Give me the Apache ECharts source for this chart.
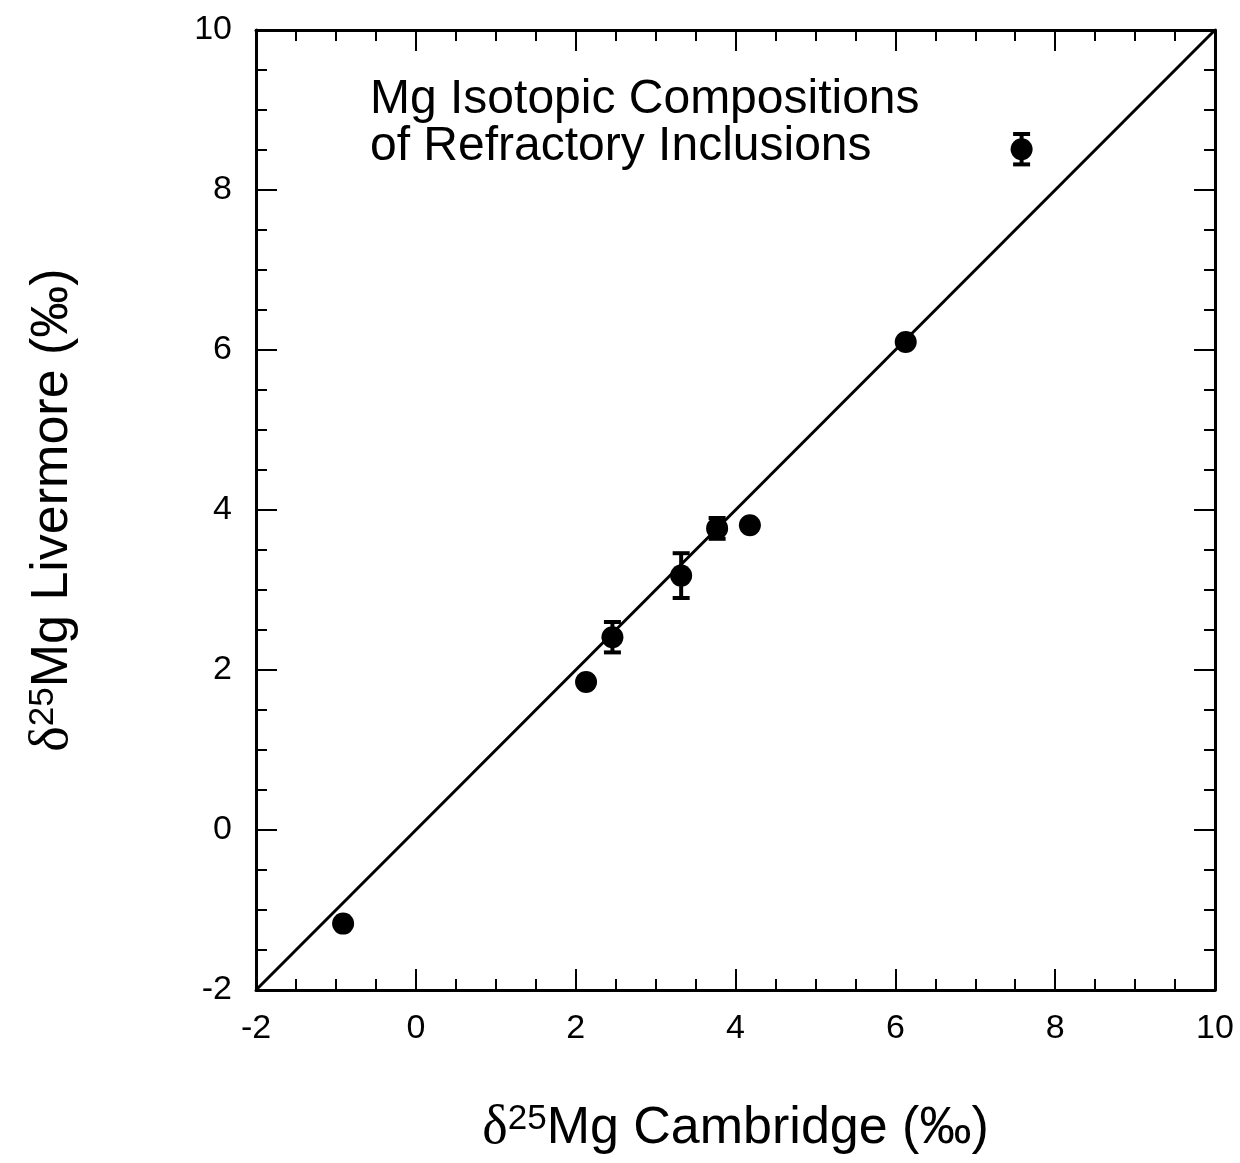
<!DOCTYPE html>
<html>
<head>
<meta charset="utf-8">
<script src="https://cdn.jsdelivr.net/npm/echarts@6/dist/echarts.min.js"></script>
<style>
  html, body { margin: 0; padding: 0; background: #fff; }
  #chart { width: 1240px; height: 1163px; }
</style>
</head>
<body>
<div id="chart"></div>
<script>
// delta-25 Mg of refractory inclusions measured in two labs
const cambridge = [-0.91, 2.13, 2.46, 3.32, 3.77, 4.18, 6.13, 7.58];
const livermore = [-1.17, 1.85, 2.41, 3.18, 3.77, 3.81, 6.10, 8.51];
const livermoreErr = [0, 0.06, 0.19, 0.28, 0.13, 0, 0, 0.19];
// 1:1 reference line
const refLine = [-2, 10];
const axisMin = -2, axisMax = 10, axisStep = 2;
const titleLines = ['Mg Isotopic Compositions', 'of Refractory Inclusions'];

const FONT = 'Helvetica, Arial, "Liberation Sans", sans-serif';
const points = cambridge.map((x, i) => [x, livermore[i], livermoreErr[i]]);

const chart = echarts.init(document.getElementById('chart'), null, { renderer: 'canvas' });

function frameAxis(extra) {
  return Object.assign({
    type: 'value',
    min: axisMin,
    max: axisMax,
    interval: axisStep,
    axisLine: { show: true, onZero: false, lineStyle: { color: '#000', width: 3 } },
    axisTick: { show: true, inside: true, length: 21, lineStyle: { color: '#000', width: 2 } },
    minorTick: { show: true, splitNumber: 4, length: 11, lineStyle: { color: '#000', width: 2 } },
    splitLine: { show: false },
    minorSplitLine: { show: false }
  }, extra);
}

const nameRich = {
  d: { fontFamily: '"Liberation Serif", "Times New Roman", serif', fontSize: 54, color: '#000' },
  s: { fontFamily: FONT, fontSize: 35, color: '#000', verticalAlign: 'top' },
  t: { fontFamily: FONT, fontSize: 52, color: '#000' }
};

chart.setOption({
  animation: false,
  backgroundColor: '#fff',
  grid: { left: 256, right: 25, top: 30, bottom: 173 },
  xAxis: [
    frameAxis({
      position: 'bottom',
      axisLabel: { color: '#000', fontSize: 34, fontFamily: FONT, margin: 22 },
      name: '{d|δ}{s|25}{t|Mg Cambridge (‰)}',
      nameLocation: 'middle',
      nameGap: 112,
      nameTextStyle: { rich: nameRich }
    }),
    frameAxis({ position: 'top', axisLabel: { show: false } })
  ],
  yAxis: [
    frameAxis({
      position: 'left',
      axisLabel: { color: '#000', fontSize: 34, fontFamily: FONT, margin: 24 },
      name: '{d|δ}{s|25}{t|Mg Livermore (‰)}',
      nameLocation: 'middle',
      nameGap: 176,
      nameRotate: 90,
      nameTextStyle: { rich: nameRich }
    }),
    frameAxis({ position: 'right', axisLabel: { show: false } })
  ],
  graphic: [{
    type: 'text',
    left: 370,
    top: 76,
    style: {
      text: titleLines.join('\n'),
      fontFamily: FONT,
      fontSize: 48,
      lineHeight: 47,
      fill: '#000'
    }
  }],
  series: [
    {
      type: 'line',
      data: [[refLine[0], refLine[0]], [refLine[1], refLine[1]]],
      symbol: 'none',
      lineStyle: { color: '#000', width: 3 },
      z: 2
    },
    {
      type: 'custom',
      data: points,
      z: 3,
      renderItem: function (params, api) {
        const x = api.value(0), y = api.value(1), e = api.value(2);
        if (!e) return null;
        const top = api.coord([x, y + e]);
        const bot = api.coord([x, y - e]);
        const half = 8.5;
        const style = { stroke: '#000', lineWidth: 4 };
        return {
          type: 'group',
          children: [
            { type: 'line', shape: { x1: top[0], y1: top[1], x2: bot[0], y2: bot[1] }, style: style },
            { type: 'line', shape: { x1: top[0] - half, y1: top[1], x2: top[0] + half, y2: top[1] }, style: style },
            { type: 'line', shape: { x1: bot[0] - half, y1: bot[1], x2: bot[0] + half, y2: bot[1] }, style: style }
          ]
        };
      }
    },
    {
      type: 'scatter',
      data: points.map(p => [p[0], p[1]]),
      symbol: 'circle',
      symbolSize: 22,
      itemStyle: { color: '#000', opacity: 1 },
      z: 4
    }
  ]
});
</script>
</body>
</html>
